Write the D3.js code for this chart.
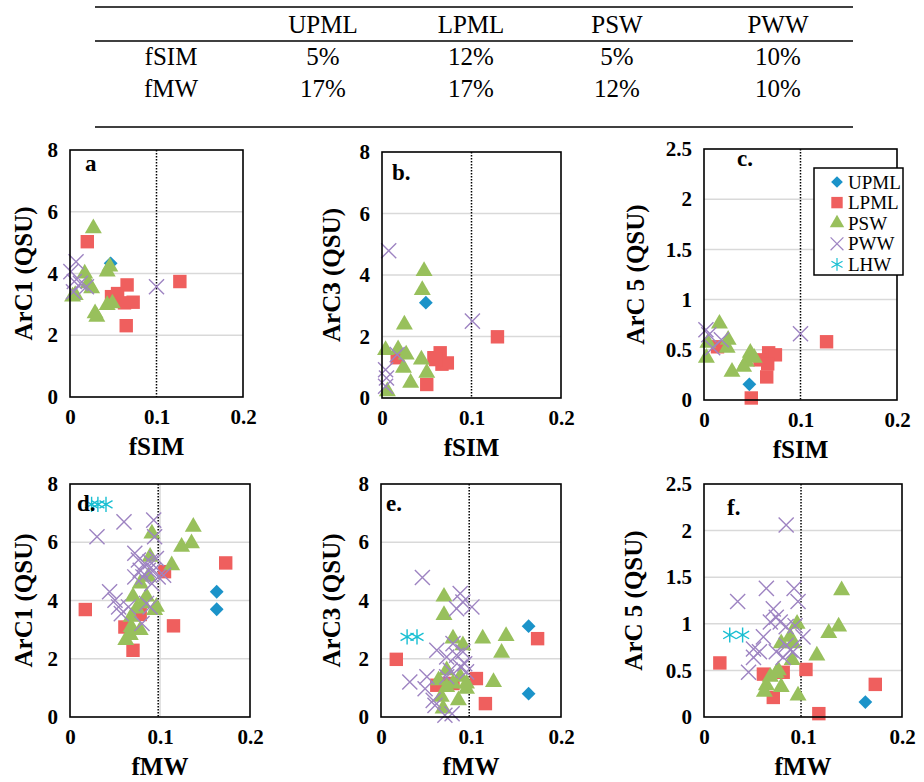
<!DOCTYPE html>
<head>
<meta charset="utf-8" />
<script src="https://d3js.org/d3.v7.min.js"></script>
<style>
  body { margin: 0; background: #fff; }
  text { font-family: "Liberation Serif", "Times New Roman", serif; }
</style>
</head>
<body>
<script>
// table
var tableCols = ["UPML", "LPML", "PSW", "PWW"];
var tableRows = ["fSIM", "fMW"];
var fsimPct = ["5%", "12%", "5%", "10%"];
var fmwPct = ["17%", "17%", "12%", "10%"];

// series
var groups = ["UPML", "LPML", "PSW", "PWW", "LHW"];
var groupColors = ["#1b93c9", "#ef5f5e", "#98c05c", "#9e84c2", "#19bfd2"];

var xTicks = [0, 0.1, 0.2];
var yTicks8 = [0, 2, 4, 6, 8];
var yTicks25 = [0, 0.5, 1, 1.5, 2, 2.5];

// points: [group, x, y]
var ptsA = [
  ["UPML", 0.047, 4.33],
  ["LPML", 0.020, 5.03], ["LPML", 0.048, 3.25], ["LPML", 0.055, 3.35], ["LPML", 0.066, 3.63],
  ["LPML", 0.073, 3.07], ["LPML", 0.063, 3.05], ["LPML", 0.065, 2.31], ["LPML", 0.127, 3.74],
  ["PSW", 0.027, 5.46], ["PSW", 0.043, 4.06], ["PSW", 0.046, 4.22], ["PSW", 0.017, 4.0],
  ["PSW", 0.021, 3.68], ["PSW", 0.025, 3.52], ["PSW", 0.006, 3.3], ["PSW", 0.003, 3.25],
  ["PSW", 0.029, 2.71], ["PSW", 0.031, 2.6], ["PSW", 0.043, 2.98], ["PSW", 0.049, 3.03],
  ["PWW", 0.007, 4.38], ["PWW", 0.001, 4.06], ["PWW", 0.005, 3.74], ["PWW", 0.012, 3.68],
  ["PWW", 0.019, 3.57], ["PWW", 0.004, 3.41], ["PWW", 0.100, 3.57]
];
var ptsB = [
  ["UPML", 0.049, 3.10],
  ["LPML", 0.129, 1.99], ["LPML", 0.017, 1.31], ["LPML", 0.058, 1.31], ["LPML", 0.065, 1.47],
  ["LPML", 0.067, 1.10], ["LPML", 0.073, 1.14], ["LPML", 0.060, 1.25], ["LPML", 0.050, 0.44],
  ["PSW", 0.047, 4.13], ["PSW", 0.045, 3.51], ["PSW", 0.025, 2.39], ["PSW", 0.004, 1.56],
  ["PSW", 0.018, 1.58], ["PSW", 0.027, 1.41], ["PSW", 0.024, 0.98], ["PSW", 0.044, 1.25],
  ["PSW", 0.050, 0.82], ["PSW", 0.032, 0.49], ["PSW", 0.006, 0.22],
  ["PWW", 0.0075, 4.79], ["PWW", 0.101, 2.50], ["PWW", 0.017, 1.41], ["PWW", 0.004, 0.92],
  ["PWW", 0.005, 0.65], ["PWW", 0.004, 0.38]
];
var ptsC = [
  ["UPML", 0.047, 0.156],
  ["LPML", 0.049, 0.02], ["LPML", 0.065, 0.23], ["LPML", 0.067, 0.47], ["LPML", 0.074, 0.45],
  ["LPML", 0.058, 0.40], ["LPML", 0.066, 0.36], ["LPML", 0.127, 0.58], ["LPML", 0.014, 0.53],
  ["PSW", 0.016, 0.76], ["PSW", 0.025, 0.60], ["PSW", 0.024, 0.52], ["PSW", 0.004, 0.57],
  ["PSW", 0.0025, 0.42], ["PSW", 0.029, 0.28], ["PSW", 0.048, 0.47], ["PSW", 0.044, 0.38],
  ["PSW", 0.041, 0.33], ["PSW", 0.052, 0.42],
  ["PWW", 0.002, 0.70], ["PWW", 0.005, 0.65], ["PWW", 0.009, 0.52], ["PWW", 0.018, 0.60],
  ["PWW", 0.100, 0.66]
];
var ptsD = [
  ["UPML", 0.163, 4.30], ["UPML", 0.163, 3.70],
  ["LPML", 0.017, 3.69], ["LPML", 0.173, 5.29], ["LPML", 0.115, 3.13], ["LPML", 0.105, 4.99],
  ["LPML", 0.070, 2.29], ["LPML", 0.061, 3.09], ["LPML", 0.078, 3.52],
  ["PSW", 0.137, 6.53], ["PSW", 0.135, 5.96], ["PSW", 0.124, 5.84], ["PSW", 0.113, 5.21],
  ["PSW", 0.091, 6.30], ["PSW", 0.089, 5.50], ["PSW", 0.096, 3.78], ["PSW", 0.062, 2.64],
  ["PSW", 0.067, 2.81], ["PSW", 0.078, 2.98], ["PSW", 0.068, 3.09], ["PSW", 0.070, 4.13],
  ["PSW", 0.074, 3.72], ["PSW", 0.081, 3.90], ["PSW", 0.085, 4.13], ["PSW", 0.078, 4.58],
  ["PSW", 0.087, 4.81], ["PSW", 0.094, 3.67], ["PSW", 0.068, 3.44],
  ["PWW", 0.030, 6.19], ["PWW", 0.060, 6.70], ["PWW", 0.093, 6.76], ["PWW", 0.094, 6.19],
  ["PWW", 0.044, 4.30], ["PWW", 0.050, 4.01], ["PWW", 0.054, 3.78], ["PWW", 0.057, 3.55],
  ["PWW", 0.072, 5.62], ["PWW", 0.076, 5.39], ["PWW", 0.083, 5.27], ["PWW", 0.089, 5.33],
  ["PWW", 0.087, 5.04], ["PWW", 0.078, 5.04], ["PWW", 0.081, 4.81], ["PWW", 0.093, 5.04],
  ["PWW", 0.098, 4.81], ["PWW", 0.104, 4.87], ["PWW", 0.072, 4.81], ["PWW", 0.080, 3.21],
  ["PWW", 0.085, 3.90], ["PWW", 0.089, 3.78], ["PWW", 0.091, 4.58], ["PWW", 0.065, 3.78],
  ["PWW", 0.096, 5.44],
  ["LHW", 0.024, 7.30], ["LHW", 0.031, 7.30], ["LHW", 0.040, 7.30]
];
var ptsE = [
  ["UPML", 0.164, 3.12], ["UPML", 0.164, 0.80],
  ["LPML", 0.017, 1.98], ["LPML", 0.174, 2.69], ["LPML", 0.106, 1.32], ["LPML", 0.116, 0.46],
  ["LPML", 0.062, 1.09], ["LPML", 0.069, 1.15], ["LPML", 0.080, 1.15],
  ["PSW", 0.070, 4.13], ["PSW", 0.070, 3.50], ["PSW", 0.080, 2.69], ["PSW", 0.091, 2.46],
  ["PSW", 0.113, 2.69], ["PSW", 0.139, 2.78], ["PSW", 0.134, 2.20], ["PSW", 0.125, 1.20],
  ["PSW", 0.095, 0.97], ["PSW", 0.086, 0.57], ["PSW", 0.069, 0.29], ["PSW", 0.067, 0.69],
  ["PSW", 0.073, 1.60], ["PSW", 0.080, 1.15], ["PSW", 0.088, 1.38], ["PSW", 0.073, 1.03],
  ["PSW", 0.095, 1.15], ["PSW", 0.064, 1.26],
  ["PWW", 0.046, 4.79], ["PWW", 0.088, 4.24], ["PWW", 0.101, 3.78], ["PWW", 0.084, 3.72],
  ["PWW", 0.091, 3.95], ["PWW", 0.032, 1.20], ["PWW", 0.051, 1.38], ["PWW", 0.049, 0.97],
  ["PWW", 0.058, 0.57], ["PWW", 0.060, 0.40], ["PWW", 0.062, 2.29], ["PWW", 0.073, 2.06],
  ["PWW", 0.080, 2.52], ["PWW", 0.084, 2.12], ["PWW", 0.091, 2.24], ["PWW", 0.077, 1.60],
  ["PWW", 0.088, 1.72], ["PWW", 0.095, 1.55], ["PWW", 0.073, 1.38], ["PWW", 0.079, 0.11],
  ["PWW", 0.071, 0.06], ["PWW", 0.093, 1.83],
  ["LHW", 0.029, 2.75], ["LHW", 0.040, 2.75]
];
var ptsF = [
  ["UPML", 0.163, 0.16],
  ["LPML", 0.016, 0.58], ["LPML", 0.173, 0.35], ["LPML", 0.116, 0.036], ["LPML", 0.103, 0.51],
  ["LPML", 0.060, 0.46], ["LPML", 0.070, 0.21], ["LPML", 0.080, 0.48],
  ["PSW", 0.139, 1.36], ["PSW", 0.136, 0.97], ["PSW", 0.126, 0.90], ["PSW", 0.114, 0.66],
  ["PSW", 0.094, 1.00], ["PSW", 0.095, 0.23], ["PSW", 0.078, 0.79], ["PSW", 0.087, 0.86],
  ["PSW", 0.090, 0.79], ["PSW", 0.089, 0.61], ["PSW", 0.075, 0.50], ["PSW", 0.067, 0.43],
  ["PSW", 0.063, 0.34], ["PSW", 0.061, 0.27], ["PSW", 0.078, 0.32], ["PSW", 0.073, 0.47],
  ["PWW", 0.083, 2.06], ["PWW", 0.063, 1.38], ["PWW", 0.091, 1.38], ["PWW", 0.034, 1.24],
  ["PWW", 0.095, 1.24], ["PWW", 0.070, 1.16], ["PWW", 0.073, 1.07], ["PWW", 0.067, 1.02],
  ["PWW", 0.077, 1.02], ["PWW", 0.083, 0.97], ["PWW", 0.092, 0.98], ["PWW", 0.060, 0.86],
  ["PWW", 0.100, 0.86], ["PWW", 0.050, 0.73], ["PWW", 0.056, 0.70], ["PWW", 0.050, 0.64],
  ["PWW", 0.045, 0.48], ["PWW", 0.073, 0.70], ["PWW", 0.087, 0.72], ["PWW", 0.090, 0.70],
  ["PWW", 0.083, 0.77], ["PWW", 0.080, 0.64],
  ["LHW", 0.026, 0.88], ["LHW", 0.039, 0.88]
];

var width = 924, height = 782;
var svg = d3.select("body").append("svg")
  .attr("width", width).attr("height", height);

// ---- table on top ----
var tbl = svg.append("g");
[7, 41, 127].forEach(function(y) {
  tbl.append("line").attr("x1", 95).attr("x2", 853).attr("y1", y).attr("y2", y)
    .attr("stroke", "#000").attr("stroke-width", 1.6);
});
var colX = [323, 471, 617, 778];
tableCols.forEach(function(c, i) {
  tbl.append("text").attr("x", colX[i]).attr("y", 33).attr("text-anchor", "middle")
    .style("font-size", "25px").text(c);
});
[fsimPct, fmwPct].forEach(function(row, r) {
  var y = 65 + r * 31.5;
  tbl.append("text").attr("x", 171).attr("y", y).attr("text-anchor", "middle")
    .style("font-size", "25px").text(tableRows[r]);
  row.forEach(function(v, i) {
    tbl.append("text").attr("x", colX[i]).attr("y", y).attr("text-anchor", "middle")
      .style("font-size", "25px").text(v);
  });
});

// ---- symbols ----
var diamond = {
  draw: function(ctx, size) {
    var r = Math.sqrt(size / 2);
    ctx.moveTo(0, -r); ctx.lineTo(r, 0); ctx.lineTo(0, r); ctx.lineTo(-r, 0); ctx.closePath();
  }
};
var symType = { UPML: diamond, LPML: d3.symbolSquare, PSW: d3.symbolTriangle, PWW: d3.symbolX, LHW: d3.symbolAsterisk };
var symSize = { UPML: 95, LPML: 180, PSW: 125, PWW: 150, LHW: 160 };
var stroked = { PWW: true, LHW: true };
function color(g) { return groupColors[groups.indexOf(g)]; }

function drawMarker(sel, g) {
  var p = sel.append("path").attr("d", d3.symbol().type(symType[g]).size(symSize[g]));
  if (stroked[g]) p.attr("fill", "none").attr("stroke", color(g)).attr("stroke-width", 1.4);
  else p.attr("fill", color(g));
  return p;
}

// ---- panels ----
var panels = [
  { pts: ptsA, l: 70, r: 243, t: 150, b: 397, ymax: 8, yt: yTicks8, xl: "fSIM", yl: "ArC1 (QSU)", lab: "a", lx: 15, ly: 21, vx: 0.1, tx: 23 },
  { pts: ptsB, l: 382, r: 561, t: 152, b: 398, ymax: 8, yt: yTicks8, xl: "fSIM", yl: "ArC3 (QSU)", lab: "b.", lx: 10, ly: 28, vx: 0.1, tx: 331 },
  { pts: ptsC, l: 704, r: 897, t: 149, b: 400, ymax: 2.5, yt: yTicks25, xl: "fSIM", yl: "ArC 5 (QSU)", lab: "c.", lx: 33, ly: 17, vx: 0.1, tx: 635, legend: true },
  { pts: ptsD, l: 70, r: 250, t: 484, b: 717, ymax: 8, yt: yTicks8, xl: "fMW", yl: "ArC1 (QSU)", lab: "d.", lx: 7, ly: 27, vx: 0.098, tx: 23, grayV: true },
  { pts: ptsE, l: 381, r: 561, t: 484, b: 717, ymax: 8, yt: yTicks8, xl: "fMW", yl: "ArC3 (QSU)", lab: "e.", lx: 5, ly: 27, vx: 0.098, tx: 331 },
  { pts: ptsF, l: 704, r: 902, t: 484, b: 717, ymax: 2.5, yt: yTicks25, xl: "fMW", yl: "ArC 5 (QSU)", lab: "f.", lx: 23, ly: 31, vx: 0.098, tx: 633 }
];

panels.forEach(function(p) {
  var x = d3.scaleLinear().domain([0, 0.2]).range([p.l, p.r]);
  var y = d3.scaleLinear().domain([0, p.ymax]).range([p.b, p.t]);
  var g = svg.append("g");

  // gridlines
  g.selectAll(".grid").data(p.yt.filter(function(v) { return v > 0 && v < p.ymax; }))
    .join("line")
    .attr("x1", p.l).attr("x2", p.r)
    .attr("y1", function(d) { return y(d); }).attr("y2", function(d) { return y(d); })
    .attr("stroke", "#d9d9d9").attr("stroke-width", 1.5);

  if (p.grayV) {
    g.append("line").attr("x1", x(0.1)).attr("x2", x(0.1)).attr("y1", p.t).attr("y2", p.b)
      .attr("stroke", "#d9d9d9").attr("stroke-width", 1.5);
  }

  // dotted threshold line
  g.append("line").attr("x1", x(p.vx)).attr("x2", x(p.vx)).attr("y1", p.t).attr("y2", p.b)
    .attr("stroke", "#000").attr("stroke-width", 1.5).attr("stroke-dasharray", "1.5,1.5");

  // axes (labels only)
  var yAxis = d3.axisLeft(y).tickValues(p.yt).tickSize(0).tickPadding(12)
    .tickFormat(function(d) { return String(d); });
  var ya = g.append("g").attr("transform", "translate(" + p.l + ",0)").call(yAxis);
  var xAxis = d3.axisBottom(x).tickValues(xTicks).tickSize(0).tickPadding(12)
    .tickFormat(function(d) { return String(d); });
  var xa = g.append("g").attr("transform", "translate(0," + p.b + ")").call(xAxis);
  [ya, xa].forEach(function(a) {
    a.select(".domain").remove();
    a.selectAll("text").style("font-family", "'Liberation Serif', serif")
      .style("font-size", "21px").style("font-weight", "bold").attr("fill", "#000");
  });

  // points
  groups.forEach(function(gr) {
    p.pts.filter(function(d) { return d[0] === gr; }).forEach(function(d) {
      drawMarker(g, gr).attr("transform", "translate(" + x(d[1]) + "," + y(d[2]) + ")");
    });
  });

  // frame
  g.append("rect").attr("x", p.l).attr("y", p.t).attr("width", p.r - p.l).attr("height", p.b - p.t)
    .attr("fill", "none").attr("stroke", "#000").attr("stroke-width", 1.6);

  // panel letter
  g.append("text").attr("x", p.l + p.lx).attr("y", p.t + p.ly)
    .style("font-size", "23px").style("font-weight", "bold").text(p.lab);

  // axis titles
  g.append("text").attr("x", (p.l + p.r) / 2).attr("y", p.b + 58).attr("text-anchor", "middle")
    .style("font-size", "25px").style("font-weight", "bold").text(p.xl);
  g.append("text")
    .attr("transform", "translate(" + p.tx + "," + ((p.t + p.b) / 2) + ") rotate(-90)")
    .attr("dy", "0.35em").attr("text-anchor", "middle")
    .style("font-size", "25px").style("font-weight", "bold").text(p.yl);

  if (p.legend) {
    var lg = svg.append("g");
    lg.append("rect").attr("x", 814).attr("y", 168).attr("width", 89).attr("height", 107)
      .attr("fill", "#fff").attr("stroke", "#000").attr("stroke-width", 1.5);
    groups.forEach(function(gr, i) {
      var yy = 182 + i * 20.6;
      drawMarker(lg, gr).attr("transform", "translate(837," + yy + ") scale(0.85)");
      lg.append("text").attr("x", 848).attr("y", yy).attr("dy", "0.35em")
        .style("font-size", "19px").text(gr);
    });
  }
});
</script>
</body>
